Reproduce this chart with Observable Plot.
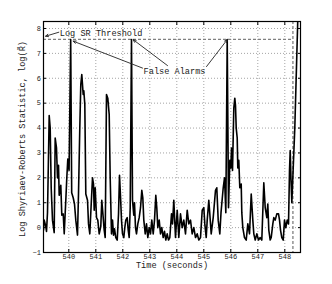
<!DOCTYPE html>
<html><head><meta charset="utf-8">
<script src="https://cdn.jsdelivr.net/npm/d3@7"></script>
<script src="https://cdn.jsdelivr.net/npm/@observablehq/plot@0.6"></script>
<style>body{margin:0;background:#fff;}</style>
</head><body><div id="chart"></div>
<script>
const times = [
539.063,539.089,539.148,539.174,539.211,539.274,539.311,539.348,539.396,539.459,
539.496,539.544,539.581,539.619,539.644,539.704,539.741,539.793,539.830,539.889,
539.926,539.963,540.010,540.070,540.107,540.163,540.211,540.259,540.322,540.359,
540.407,540.444,540.481,540.533,540.556,540.593,540.630,540.693,540.730,540.778,
540.830,540.878,540.915,540.941,540.978,541.026,541.074,541.126,541.185,541.222,
541.274,541.311,541.348,541.396,541.444,541.496,541.533,541.581,
541.619,541.656,541.693,541.741,541.793,541.841,541.878,541.915,541.952,541.989,
542.037,542.074,542.111,542.163,542.200,542.237,542.274,542.322,542.359,542.407,
542.433,542.470,542.507,542.556,542.607,542.656,542.704,542.741,542.778,542.830,
542.878,542.926,542.978,543.026,543.074,543.126,543.174,543.222,543.259,543.296,
543.348,543.396,543.444,543.496,543.544,543.593,543.644,543.693,543.741,543.804,
543.841,543.889,543.952,544.015,544.074,544.137,544.200,544.259,544.322,544.385,
544.444,544.507,544.570,544.630,544.693,544.756,544.815,544.878,544.941,545.000,
545.037,545.089,545.126,545.185,545.222,545.274,545.348,545.433,545.481,545.533,
545.593,545.637,545.719,545.767,545.815,545.867,545.915,545.963,546.000,546.026,
546.063,546.111,546.148,546.174,546.200,546.237,546.259,546.296,546.333,546.385,
546.407,546.444,546.507,546.570,546.630,546.693,546.756,546.815,546.852,546.904,
546.963,547.026,547.089,547.148,547.222,547.274,547.333,547.370,547.407,547.459,
547.496,547.556,547.593,547.644,547.704,547.767,547.804,547.841,547.889,547.941,
547.989,548.037,548.089,548.137,548.174,548.200,548.230,548.260,548.370,548.480
];
const values = [
-0.1,0.3,0.05,-0.15,0.6,4.5,4.0,1.6,0.3,-0.2,
3.6,3.2,2.0,2.5,1.3,1.7,0.5,0.55,-0.25,1.1,
2.0,2.75,2.3,7.56,1.4,1.2,0.95,0.3,-0.3,1.35,
4.0,5.75,6.15,5.35,5.5,4.95,1.35,1.1,0.15,-0.25,
0.95,2.0,1.75,0.7,1.6,0.4,0.3,-0.25,0.05,1.1,
0.4,-0.1,-0.4,5.35,5.2,4.55,2.0,-0.25,
0.3,-0.3,-0.05,-0.4,-0.5,0.55,2.1,1.25,0.3,-0.25,
-0.4,0.0,0.3,0.4,-0.1,-0.4,0.8,7.56,1.1,0.5,
1.0,0.0,-0.25,0.15,0.4,0.8,1.5,1.2,0.3,-0.25,
0.15,-0.4,0.0,-0.25,0.3,-0.25,0.3,1.3,0.8,0.0,
0.3,-0.25,0.0,-0.4,-0.15,-0.5,-0.25,-0.5,-0.4,0.55,
0.15,1.1,-0.4,0.7,-0.4,0.55,0.0,0.3,-0.25,0.7,
0.15,0.3,-0.25,0.0,-0.4,-0.25,-0.5,-0.4,0.7,0.8,
0.15,-0.4,0.3,1.1,0.55,-0.25,0.4,1.5,1.6,0.3,
-0.25,0.6,1.6,2.0,0.6,7.56,0.8,2.7,2.4,3.2,
2.3,4.8,5.2,4.9,4.0,3.6,2.4,2.7,1.6,1.75,
0.6,0.0,-0.4,-0.5,0.15,-0.25,1.35,0.3,-0.25,-0.5,
-0.25,-0.5,-0.4,-0.5,1.8,0.8,0.4,0.95,-0.1,-0.5,
-0.4,0.15,0.4,0.3,0.55,0.55,0.3,-0.1,-0.4,-0.5,
0.3,0.0,0.3,0.15,2.3,3.1,1.9,1.0,4.0,8.35
];
const threshold = 7.56;
const alarmTime = 548.3;
const xDomain = [539.063, 548.581];
const yDomain = [-1, 8.281];
const xTicks = [540,541,542,543,544,545,546,547,548];
const yTicks = [-1,0,1,2,3,4,5,6,7,8];
const xLabel = "Time (seconds)";
const yLabel = "Log Shyriaev-Roberts Statistic, log(R\u0303)";
const noteTexts = ["Log SR Threshold", "False Alarms"];
const noteT = [539.667, 543.915];
const noteV = [7.79, 6.27];
const noteAnchor = ["start", "middle"];
const arrowFromT = [539.63, 542.73, 543.656, 545.10];
const arrowFromV = [7.85, 6.41, 6.51, 6.47];
const arrowToT = [539.14, 540.163, 542.385, 545.867];
const arrowToV = [7.69, 7.49, 7.55, 7.55];

const series = times.map((t, i) => ({t, v: values[i]}));
const notes = noteTexts.map((s, i) => ({s, t: noteT[i], v: noteV[i], a: noteAnchor[i]}));
const arrows = arrowFromT.map((t, i) => ({t1: t, v1: arrowFromV[i], t2: arrowToT[i], v2: arrowToV[i]}));

const grid = {stroke: "#9a9a9a", strokeOpacity: 1, strokeDasharray: "1,2", strokeWidth: 0.9};
const dash = {stroke: "#808080", strokeDasharray: "3,2", strokeWidth: 1.3};
const ink = "#222";

const plot = Plot.plot({
  width: 332, height: 284,
  marginLeft: 43, marginRight: 32, marginTop: 21, marginBottom: 32,
  style: {fontFamily: "'Liberation Mono', monospace", fontSize: "7px", background: "#fff", color: ink},
  x: {domain: xDomain, ticks: xTicks},
  y: {domain: yDomain, ticks: yTicks},
  marks: [
    Plot.gridX(xTicks, grid),
    Plot.gridY(yTicks, grid),
    Plot.ruleY([threshold], {x1: xDomain[0], x2: alarmTime, ...dash}),
    Plot.ruleX([alarmTime], dash),
    Plot.line(series, {x: "t", y: "v", stroke: "#000", strokeWidth: 1.6, strokeLinejoin: "round", clip: true}),
    Plot.frame({stroke: "#000", strokeWidth: 1.2}),
    Plot.axisX(xTicks, {anchor: "bottom", tickSize: 0, tickPadding: 2, label: null}),
    Plot.axisY(yTicks, {anchor: "left", tickSize: 0, tickPadding: 2.5, label: null}),
    Plot.axisX(xTicks, {anchor: "bottom", tickSize: -3, text: null, label: null, stroke: "#000"}),
    Plot.axisX(xTicks, {anchor: "top", tickSize: -3, text: null, label: null, stroke: "#000"}),
    Plot.axisY(yTicks, {anchor: "left", tickSize: -3, text: null, label: null, stroke: "#000"}),
    Plot.axisY(yTicks, {anchor: "right", tickSize: -3, text: null, label: null, stroke: "#000"}),
    Plot.text([xLabel], {frameAnchor: "bottom", dy: 15.5, fontSize: 8.6, fill: ink}),
    Plot.text([yLabel], {frameAnchor: "left", dx: -21, dy: 2, rotate: -90, textAnchor: "middle", fontSize: 8.6, fill: ink}),
    Plot.arrow(arrows, {x1: "t1", y1: "v1", x2: "t2", y2: "v2", stroke: ink, strokeWidth: 0.9, headLength: 5, headAngle: 50}),
    Plot.text(notes, {x: "t", y: "v", text: "s", textAnchor: "start", fontSize: 8.6, fill: ink, filter: d => d.a === "start"}),
    Plot.text(notes, {x: "t", y: "v", text: "s", textAnchor: "middle", fontSize: 8.6, fill: ink, filter: d => d.a === "middle"})
  ]
});
document.getElementById("chart").appendChild(plot);
</script>
</body></html>
